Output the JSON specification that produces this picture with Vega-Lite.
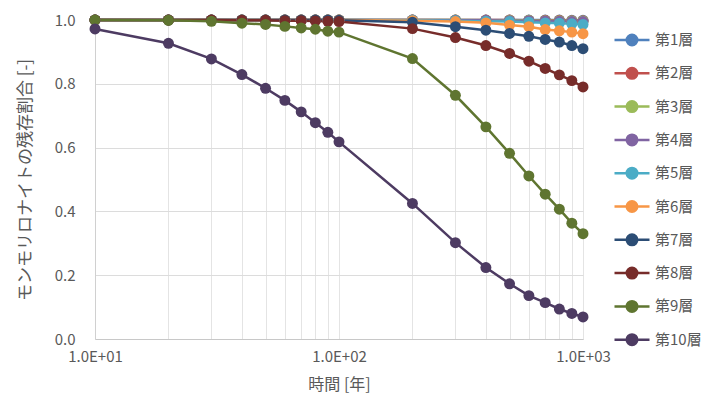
{
  "$schema": "https://vega.github.io/schema/vega-lite/v6.json",
  "autosize": "none",
  "width": 488,
  "height": 319,
  "padding": {"left": 95, "top": 20, "right": 138, "bottom": 69},
  "background": "white",
  "config": {
    "view": {"stroke": null},
    "font": "Noto Sans CJK JP"
  },
  "data": {
    "values": [
      {"t": 10, "第1層": 1, "第2層": 1, "第3層": 1, "第4層": 1, "第5層": 1, "第6層": 1, "第7層": 1, "第8層": 1, "第9層": 1, "第10層": 0.972},
      {"t": 20, "第1層": 1, "第2層": 1, "第3層": 1, "第4層": 1, "第5層": 1, "第6層": 1, "第7層": 1, "第8層": 1, "第9層": 0.999, "第10層": 0.927},
      {"t": 30, "第1層": 1, "第2層": 1, "第3層": 1, "第4層": 1, "第5層": 1, "第6層": 1, "第7層": 1, "第8層": 1, "第9層": 0.996, "第10層": 0.878},
      {"t": 40, "第1層": 1, "第2層": 1, "第3層": 1, "第4層": 1, "第5層": 1, "第6層": 1, "第7層": 1, "第8層": 0.999, "第9層": 0.99, "第10層": 0.829},
      {"t": 50, "第1層": 1, "第2層": 1, "第3層": 1, "第4層": 1, "第5層": 1, "第6層": 1, "第7層": 1, "第8層": 0.999, "第9層": 0.986, "第10層": 0.786},
      {"t": 60, "第1層": 1, "第2層": 1, "第3層": 1, "第4層": 1, "第5層": 1, "第6層": 1, "第7層": 1, "第8層": 0.998, "第9層": 0.98, "第10層": 0.748},
      {"t": 70, "第1層": 1, "第2層": 1, "第3層": 1, "第4層": 1, "第5層": 1, "第6層": 1, "第7層": 1, "第8層": 0.998, "第9層": 0.975, "第10層": 0.712},
      {"t": 80, "第1層": 1, "第2層": 1, "第3層": 1, "第4層": 1, "第5層": 1, "第6層": 1, "第7層": 1, "第8層": 0.997, "第9層": 0.971, "第10層": 0.678},
      {"t": 90, "第1層": 1, "第2層": 1, "第3層": 1, "第4層": 1, "第5層": 1, "第6層": 1, "第7層": 1, "第8層": 0.996, "第9層": 0.965, "第10層": 0.648},
      {"t": 100, "第1層": 1, "第2層": 1, "第3層": 1, "第4層": 1, "第5層": 1, "第6層": 1, "第7層": 0.999, "第8層": 0.995, "第9層": 0.962, "第10層": 0.618},
      {"t": 200, "第1層": 1, "第2層": 1, "第3層": 1, "第4層": 1, "第5層": 0.999, "第6層": 0.998, "第7層": 0.993, "第8層": 0.973, "第9層": 0.879, "第10層": 0.425},
      {"t": 300, "第1層": 1, "第2層": 1, "第3層": 1, "第4層": 0.999, "第5層": 0.998, "第6層": 0.995, "第7層": 0.979, "第8層": 0.945, "第9層": 0.764, "第10層": 0.302},
      {"t": 400, "第1層": 1, "第2層": 1, "第3層": 0.999, "第4層": 0.999, "第5層": 0.996, "第6層": 0.991, "第7層": 0.968, "第8層": 0.92, "第9層": 0.665, "第10層": 0.224},
      {"t": 500, "第1層": 1, "第2層": 1, "第3層": 0.999, "第4層": 0.998, "第5層": 0.995, "第6層": 0.984, "第7層": 0.958, "第8層": 0.895, "第9層": 0.582, "第10層": 0.173},
      {"t": 600, "第1層": 1, "第2層": 0.999, "第3層": 0.999, "第4層": 0.998, "第5層": 0.993, "第6層": 0.979, "第7層": 0.949, "第8層": 0.871, "第9層": 0.511, "第10層": 0.136},
      {"t": 700, "第1層": 1, "第2層": 0.999, "第3層": 0.998, "第4層": 0.997, "第5層": 0.991, "第6層": 0.97, "第7層": 0.939, "第8層": 0.848, "第9層": 0.454, "第10層": 0.114},
      {"t": 800, "第1層": 1, "第2層": 0.999, "第3層": 0.998, "第4層": 0.996, "第5層": 0.99, "第6層": 0.966, "第7層": 0.931, "第8層": 0.828, "第9層": 0.407, "第10層": 0.094},
      {"t": 900, "第1層": 0.999, "第2層": 0.998, "第3層": 0.997, "第4層": 0.995, "第5層": 0.988, "第6層": 0.962, "第7層": 0.92, "第8層": 0.81, "第9層": 0.363, "第10層": 0.08},
      {"t": 1000, "第1層": 0.999, "第2層": 0.998, "第3層": 0.997, "第4層": 0.995, "第5層": 0.986, "第6層": 0.957, "第7層": 0.91, "第8層": 0.79, "第9層": 0.33, "第10層": 0.069}
    ]
  },
  "transform": [
    {"fold": ["第1層", "第2層", "第3層", "第4層", "第5層", "第6層", "第7層", "第8層", "第9層", "第10層"], "as": ["s", "v"]}
  ],
  "encoding": {
    "x": {
      "field": "t", "type": "quantitative",
      "scale": {"type": "log", "domain": [10, 1000], "nice": false},
      "axis": {
        "title": "時間 [年]",
        "values": [10, 20, 30, 40, 50, 60, 70, 80, 90, 100, 200, 300, 400, 500, 600, 700, 800, 900, 1000],
        "labelExpr": "datum.value == 10 ? '1.0E+01' : datum.value == 100 ? '1.0E+02' : datum.value == 1000 ? '1.0E+03' : ''",
        "labelFlush": false,
        "labelOverlap": false,
        "labelFontSize": 15, "labelColor": "#595959", "labelPadding": 10,
        "titleFontSize": 16, "titleColor": "#595959", "titleFontWeight": "normal", "titlePadding": 12,
        "grid": true, "gridColor": "#e4e4e4", "gridWidth": 1,
        "ticks": false, "domainColor": "#c8c8c8", "domainWidth": 1.2
      }
    },
    "y": {
      "field": "v", "type": "quantitative",
      "scale": {"domain": [0, 1], "nice": false},
      "axis": {
        "title": "モンモリロナイトの残存割合 [-]",
        "values": [0, 0.2, 0.4, 0.6, 0.8, 1.0],
        "format": ".1f",
        "labelFontSize": 15, "labelColor": "#595959", "labelPadding": 20,
        "titleFontSize": 17, "titleColor": "#595959", "titleFontWeight": "normal", "titlePadding": 20,
        "grid": true, "gridColor": "#dcdcdc", "gridWidth": 1,
        "ticks": false, "domainColor": "#d0d0d0"
      }
    },
    "color": {
      "field": "s", "type": "nominal",
      "scale": {
        "domain": ["第1層", "第2層", "第3層", "第4層", "第5層", "第6層", "第7層", "第8層", "第9層", "第10層"],
        "range": ["#4F81BD", "#C0504D", "#9BBB59", "#8064A2", "#4BACC6", "#F79646", "#2C4D75", "#772C2A", "#5F7530", "#4D3B62"]
      },
      "legend": {
        "title": null,
        "orient": "none",
        "legendX": 518,
        "legendY": 10,
        "symbolType": "M-1,0H1M-0.3,0A0.3,0.3,0,1,1,0.3,0A0.3,0.3,0,1,1,-0.3,0Z",
        "symbolSize": 1225,
        "symbolStrokeWidth": 2.5,
        "clipHeight": 20,
        "rowPadding": 13.3,
        "labelFontSize": 15,
        "labelColor": "#595959",
        "labelOffset": 4,
        "encode": {
          "symbols": {"update": {"fill": {"scale": "color", "field": "value"}, "stroke": {"scale": "color", "field": "value"}, "opacity": {"value": 1}}}
        }
      }
    }
  },
  "layer": [
    {"mark": {"type": "line", "strokeWidth": 2.5}},
    {"mark": {"type": "point", "filled": true, "size": 120, "opacity": 1}}
  ]
}
